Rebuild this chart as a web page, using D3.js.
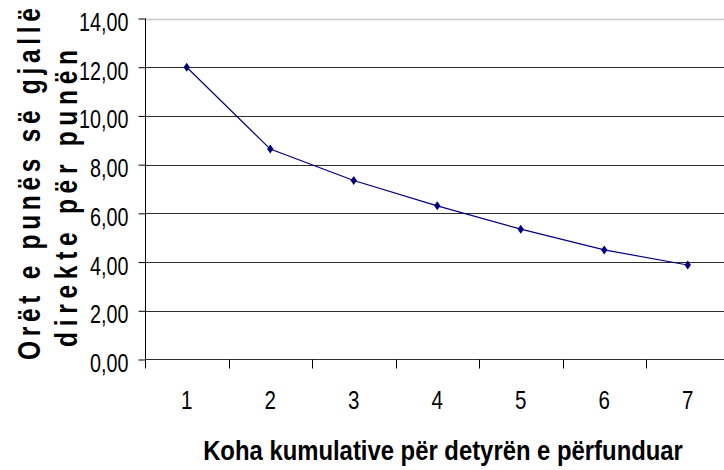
<!DOCTYPE html>
<html>
<head>
<meta charset="utf-8">
<script src="https://cdn.jsdelivr.net/npm/d3@7"></script>
<style>
  html, body { margin: 0; padding: 0; background: #fff; }
  svg { display: block; }
  text { font-family: "Liberation Sans", Arial, sans-serif; fill: #000; }
</style>
</head>
<body>
<svg id="chart" width="724" height="470"></svg>
<script>
const categories = ["1", "2", "3", "4", "5", "6", "7"];
const values = [12.00, 8.64, 7.35, 6.31, 5.35, 4.50, 3.88];
const yTicks = [0, 2, 4, 6, 8, 10, 12, 14];
const xTitle = "Koha kumulative për detyrën e përfunduar";
const yTitleLines = ["Orët e punës së gjallë", "direkte për punën"];

(function () {
const svg = d3.select("#chart");
const pLeft = 145, pRight = 729.5, pTop = 18.5, pBottom = 359.5;
const NARROW = 0.79;

const x = d3.scaleBand().domain(categories).range([pLeft, pRight]);
const y = d3.scaleLinear().domain([0, 14]).range([pBottom, pTop]);

// gridlines
svg.append("g").selectAll("line").data(yTicks.filter(d => d > 0)).join("line")
  .attr("x1", pLeft).attr("x2", 724)
  .attr("y1", d => Math.round(y(d)) + 0.5).attr("y2", d => Math.round(y(d)) + 0.5)
  .attr("stroke", d => d === 14 ? "#c8c8c8" : "#2e2e2e")
  .attr("stroke-width", d => d === 14 ? 1.5 : 1);

// y axis
const yAxis = d3.axisLeft(y).tickValues(yTicks).tickSize(7).tickPadding(10)
  .tickFormat(d => d3.format(".2f")(d).replace(".", ","));
const gy = svg.append("g").attr("transform", `translate(${pLeft + 0.5},0)`).call(yAxis);
gy.select(".domain").remove();
gy.selectAll(".tick line").attr("stroke", "#000");
gy.selectAll(".tick text")
  .style("font-size", "25px")
  .attr("x", 0).attr("dy", "0.36em")
  .attr("transform", `translate(-17,3) scale(${NARROW},1)`);
svg.append("line").attr("x1", pLeft + 0.5).attr("x2", pLeft + 0.5)
  .attr("y1", pTop).attr("y2", pBottom + 9).attr("stroke", "#000");

// x axis
svg.append("line").attr("x1", pLeft).attr("x2", 724)
  .attr("y1", pBottom).attr("y2", pBottom).attr("stroke", "#2e2e2e");
const boundaries = categories.map(c => x(c));
svg.append("g").selectAll("line").data(boundaries.slice(1)).join("line")
  .attr("x1", d => Math.round(d) + 0.5).attr("x2", d => Math.round(d) + 0.5)
  .attr("y1", pBottom).attr("y2", pBottom + 9).attr("stroke", "#000");
svg.append("g").selectAll("text").data(categories).join("text")
  .attr("transform", d => `translate(${x(d) + x.bandwidth() / 2},409) scale(${NARROW},1)`)
  .attr("text-anchor", "middle")
  .style("font-size", "26px")
  .text(d => d);

// line
const line = d3.line().x((d, i) => x(categories[i]) + x.bandwidth() / 2).y(d => y(d));
svg.append("path").datum(values).attr("d", line)
  .attr("fill", "none").attr("stroke", "#000080").attr("stroke-width", 1.2);

// markers
const diamond = "M0,-4.5 L3.2,0 L0,4.5 L-3.2,0 Z";
svg.append("g").selectAll("path").data(values).join("path")
  .attr("transform", (d, i) => `translate(${x(categories[i]) + x.bandwidth() / 2},${y(d)})`)
  .attr("d", diamond).attr("fill", "#000080");

// x title
const xt = svg.append("text").attr("text-anchor", "middle")
  .style("font-size", "28px").style("font-weight", "bold").text(xTitle);
const xtw = xt.node().getComputedTextLength();
xt.attr("transform", `translate(443,460) scale(${480 / xtw},1)`);

// y title: narrow glyphs with extra letter spacing
const yTitleSpecs = [
  { text: yTitleLines[0], center: 184, baseline: 40, length: 352 },
  { text: yTitleLines[1], center: 198.5, baseline: 77, length: 297 }
];
yTitleSpecs.forEach(s => {
  const t = svg.append("text")
    .attr("text-anchor", "middle")
    .style("font-size", "31px").style("font-weight", "bold")
    .text(s.text);
  const w0 = t.node().getComputedTextLength();
  const n = s.text.length;
  const ls = (s.length / NARROW - w0) / (n - 1);
  t.style("letter-spacing", ls + "px")
   .attr("x", ls / 2)
   .attr("transform", `translate(${s.baseline},${s.center}) rotate(-90) scale(${NARROW},1)`);
});
})();
</script>
</body>
</html>
